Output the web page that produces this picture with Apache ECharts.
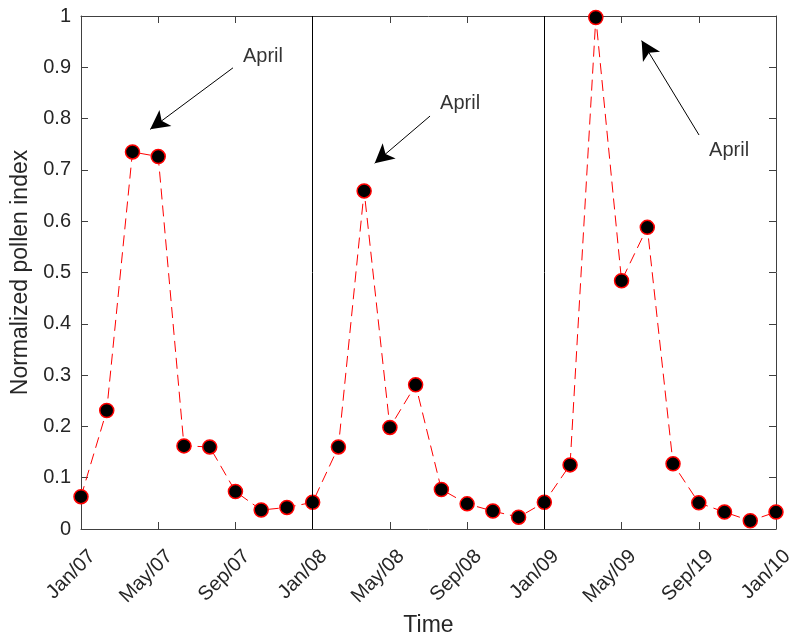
<!DOCTYPE html>
<html>
<head>
<meta charset="utf-8">
<script src="https://cdn.jsdelivr.net/npm/echarts@6/dist/echarts.min.js"></script>
<style>html,body{margin:0;padding:0;background:#fff}#c{width:790px;height:634px}</style>
</head>
<body>
<div id="c"></div>
<script>
// Data
const tickLabels = ['Jan/07','May/07','Sep/07','Jan/08','May/08','Sep/08','Jan/09','May/09','Sep/19','Jan/10'];
const pollenIndex = [
  0.063, 0.231, 0.735, 0.726, 0.162, 0.160, 0.073, 0.037, 0.042, 0.052,
  0.160, 0.659, 0.198, 0.281, 0.077, 0.049, 0.035, 0.023, 0.052,
  0.125, 0.997, 0.484, 0.588, 0.127, 0.051, 0.033, 0.016, 0.033
];
const yearBoundaries = [9, 18];
// annotation arrows in data units
const arrowStarts = [[5.905, 0.899], [13.56, 0.805], [24.01, 0.768]];
const arrowEnds   = [[2.688, 0.779], [11.41, 0.713], [21.78, 0.952]];
const annotationText = ['April', 'April', 'April'];
const annotationPos = [[6.293, 0.922], [13.95, 0.830], [24.40, 0.737]];

const font = 'Liberation Sans, Arial, Helvetica, sans-serif';
const txt = '#262626';
const axisCol = '#404040';

const chart = echarts.init(document.getElementById('c'), null, {renderer: 'canvas'});
const xMax = pollenIndex.length - 1;

const baseX = {
  type: 'value', min: 0, max: xMax, interval: 3,
  splitLine: {show: false},
  axisLine: {show: true, onZero: false, lineStyle: {color: axisCol, width: 1}},
  axisTick: {show: true, inside: true, length: 7, lineStyle: {color: axisCol}},
};
const baseY = {
  type: 'value', min: 0, max: 1, interval: 0.1,
  splitLine: {show: false},
  axisLine: {show: true, onZero: false, lineStyle: {color: axisCol, width: 1}},
  axisTick: {show: true, inside: true, length: 7, lineStyle: {color: axisCol}},
};

chart.setOption({
  animation: false,
  backgroundColor: '#fff',
  textStyle: {fontFamily: font, fontSize: 20},
  grid: {left: 81, right: 14, top: 16, bottom: 105, containLabel: false, outerBoundsMode: 'none'},
  xAxis: [
    Object.assign({}, baseX, {
      position: 'bottom',
      name: 'Time', nameLocation: 'middle', nameGap: 84,
      nameTextStyle: {fontSize: 23, color: txt, fontFamily: font},
      axisLabel: {
        show: true, rotate: 45, fontSize: 20, color: txt, fontFamily: font,
        margin: 13, padding: [6, 0, 0, 0], align: 'right', verticalAlign: 'top',
        showMinLabel: true, showMaxLabel: true, hideOverlap: false,
        formatter: v => tickLabels[Math.round(v / 3)] || ''
      }
    }),
    Object.assign({}, baseX, {position: 'top', axisLabel: {show: false}})
  ],
  yAxis: [
    Object.assign({}, baseY, {
      position: 'left',
      name: 'Normalized pollen index', nameLocation: 'middle', nameGap: 39,
      nameTextStyle: {fontSize: 23, color: txt, fontFamily: font},
      axisLabel: {show: true, fontSize: 20, color: txt, fontFamily: font, margin: 10,
        formatter: v => String(Math.round(v * 10) / 10)}
    }),
    Object.assign({}, baseY, {position: 'right', axisLabel: {show: false}})
  ],
  series: [
    {
      type: 'line', xAxisIndex: 0, yAxisIndex: 0, z: 1,
      data: [], silent: true,
      markLine: {
        silent: true, symbol: ['none', 'none'], label: {show: false},
        lineStyle: {color: '#000', width: 1, type: 'solid'},
        data: yearBoundaries.map(x => ({xAxis: x}))
      }
    },
    {
      type: 'line', xAxisIndex: 0, yAxisIndex: 0, z: 3,
      data: pollenIndex.map((v, i) => [i, v]),
      lineStyle: {color: '#ff0000', width: 1, type: [11, 6]},
      symbol: 'circle', symbolSize: 14, showSymbol: true,
      itemStyle: {color: '#000', borderColor: '#ff0000', borderWidth: 1.5},
      markLine: {
        silent: true, symbol: ['none', 'arrow'], symbolSize: [15, 19],
        label: {show: false},
        lineStyle: {color: '#000', width: 1, type: 'solid'},
        data: arrowStarts.map((s, i) => [{coord: s}, {coord: arrowEnds[i]}])
      }
    },
    {
      type: 'scatter', xAxisIndex: 0, yAxisIndex: 0, z: 4, silent: true,
      symbolSize: 1, itemStyle: {color: 'rgba(0,0,0,0)'},
      data: annotationPos.map((p, i) => ({value: p, name: annotationText[i]})),
      label: {show: true, position: 'inside', align: 'left', verticalAlign: 'middle',
        formatter: p => p.name, fontSize: 20, color: '#000', fontFamily: font}
    }
  ]
});
</script>
</body>
</html>
